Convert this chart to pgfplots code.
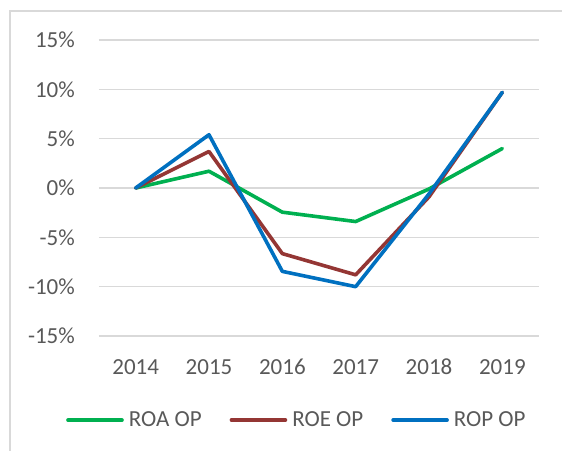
\documentclass[border=0pt]{standalone}
\usepackage{pgfplots}
\pgfplotsset{compat=1.18}
\usepackage{fontspec}
\setmainfont{Carlito}

\definecolor{roagreen}{HTML}{00B050}
\definecolor{roered}{HTML}{943634}
\definecolor{ropblue}{HTML}{0070C0}
\definecolor{gridgray}{HTML}{D9D9D9}
\definecolor{labelgray}{HTML}{595959}

\begin{document}
\begin{tikzpicture}
\useasboundingbox (0pt,0pt) rectangle (562pt,450pt);
% chart frame (only left and top edges are visible)
\draw[gridgray, line width=1.5pt] (10pt,-20pt) -- (10pt,439pt) -- (600pt,439pt);

\begin{axis}[
    at={(99pt,114pt)}, anchor=south west,
    scale only axis,
    width=440pt, height=296pt,
    xmin=-0.5, xmax=5.5,
    ymin=-15, ymax=15,
    xtick={0,1,2,3,4,5},
    xticklabels={2014,2015,2016,2017,2018,2019},
    ytick={-15,-10,-5,0,5,10,15},
    yticklabels={-15\%,-10\%,-5\%,0\%,5\%,10\%,15\%},
    axis line style={draw=none},
    major tick length=0pt,
    ymajorgrids,
    grid style={gridgray, line width=1.5pt},
    tick label style={font=\fontsize{23}{28}\selectfont, text=labelgray},
    xticklabel style={inner sep=0pt, anchor=north, yshift=-23pt},
    yticklabel style={inner sep=0pt, anchor=east, xshift=-24pt},
    clip=false,
    legend columns=3,
    legend style={at={(-0.075,-0.284)}, anchor=west, draw=none, fill=none,
        inner sep=0pt, font=\fontsize{23}{28}\selectfont, text=labelgray,
        nodes={inner sep=0pt},
        column sep=5pt,
        /tikz/every even column/.append style={column sep=28pt}},
    legend image code/.code={\draw[#1, line cap=round] (0pt,0pt) -- (54pt,0pt);},
    every axis plot/.append style={line width=3.6pt, line join=round, line cap=round},
]
\addplot[roagreen] coordinates {(0,0) (1,1.7) (2,-2.45) (3,-3.4) (4,-0.1) (5,4.0)};
\addlegendentry{ROA OP}
\addplot[roered] coordinates {(0,0) (1,3.7) (2,-6.65) (3,-8.8) (4,-0.9) (5,9.7)};
\addlegendentry{ROE OP}
\addplot[ropblue] coordinates {(0,0) (1,5.4) (2,-8.45) (3,-10.0) (4,-0.6) (5,9.7)};
\addlegendentry{ROP OP}
\end{axis}
\end{tikzpicture}
\end{document}
